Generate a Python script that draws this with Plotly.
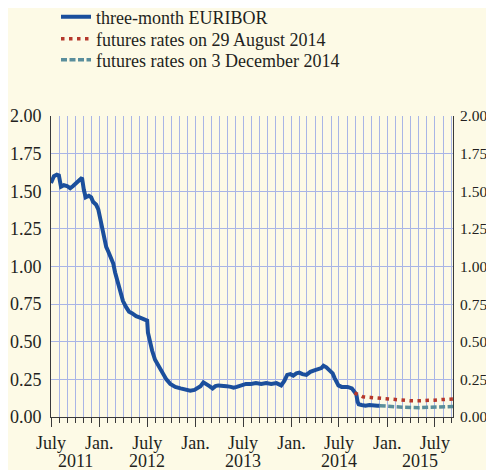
import plotly.graph_objects as go

# ---------------- data ----------------
euribor_dates = [
    "2011-07-01", "2011-07-12", "2011-07-23", "2011-07-31", "2011-08-08", "2011-08-19",
    "2011-08-31", "2011-09-12", "2011-09-23", "2011-10-08", "2011-10-20", "2011-10-27",
    "2011-11-03", "2011-11-10", "2011-11-22", "2011-12-01", "2011-12-08", "2011-12-20",
    "2011-12-28", "2012-01-05", "2012-01-12", "2012-01-20", "2012-01-27", "2012-02-04",
    "2012-02-12", "2012-02-23", "2012-03-01", "2012-03-08", "2012-03-19", "2012-03-31",
    "2012-04-12", "2012-04-23", "2012-05-04", "2012-05-20", "2012-06-04", "2012-06-19",
    "2012-07-01", "2012-07-04", "2012-07-12", "2012-07-20", "2012-07-31", "2012-08-12",
    "2012-08-27", "2012-09-12", "2012-09-27", "2012-10-16", "2012-11-05", "2012-11-23",
    "2012-12-12", "2012-12-28", "2013-01-08", "2013-01-20", "2013-01-31", "2013-02-12",
    "2013-02-23", "2013-03-07", "2013-03-18", "2013-03-29", "2013-04-14", "2013-04-29",
    "2013-05-15", "2013-05-26", "2013-06-07", "2013-06-22", "2013-07-12", "2013-07-31",
    "2013-08-19", "2013-09-08", "2013-09-27", "2013-10-16", "2013-11-05", "2013-11-23",
    "2013-12-05", "2013-12-16", "2013-12-28", "2014-01-08", "2014-01-20", "2014-01-31",
    "2014-02-12", "2014-02-27", "2014-03-14", "2014-03-29", "2014-04-14", "2014-04-25",
    "2014-05-03", "2014-05-14", "2014-05-26", "2014-06-07", "2014-06-14", "2014-06-22",
    "2014-06-29", "2014-07-11", "2014-07-22", "2014-08-03", "2014-08-19", "2014-08-30",
    "2014-09-05", "2014-09-10", "2014-09-14", "2014-09-25", "2014-10-10", "2014-10-25",
    "2014-11-09", "2014-11-24", "2014-12-03",
]
euribor_values = [
    1.555, 1.60, 1.61, 1.605, 1.53, 1.54,
    1.535, 1.52, 1.535, 1.56, 1.58, 1.59,
    1.51, 1.46, 1.47, 1.46, 1.43, 1.41,
    1.38, 1.32, 1.26, 1.19, 1.13, 1.10,
    1.06, 1.02, 0.96, 0.91, 0.83, 0.77,
    0.73, 0.70, 0.69, 0.67, 0.66, 0.65,
    0.64, 0.56, 0.49, 0.44, 0.38, 0.34,
    0.29, 0.25, 0.22, 0.20, 0.19, 0.185,
    0.175, 0.18, 0.19, 0.205, 0.23, 0.22,
    0.205, 0.19, 0.205, 0.21, 0.21, 0.205,
    0.20, 0.195, 0.20, 0.21, 0.22, 0.22,
    0.225, 0.22, 0.225, 0.22, 0.225, 0.21,
    0.24, 0.28, 0.285, 0.275, 0.29, 0.295,
    0.285, 0.28, 0.30, 0.31, 0.315, 0.325,
    0.34, 0.33, 0.31, 0.29, 0.26, 0.23,
    0.21, 0.20, 0.20, 0.20, 0.19, 0.17,
    0.15, 0.10, 0.085, 0.08, 0.075, 0.08,
    0.075, 0.075, 0.075,
]

fut_aug_dates = [
    "2014-08-29", "2014-09-29", "2014-10-29", "2014-11-29", "2014-12-29", "2015-01-29",
    "2015-02-28", "2015-03-29", "2015-04-29", "2015-05-29", "2015-06-29", "2015-07-29",
    "2015-08-29", "2015-09-08",
]
fut_aug_values = [
    0.16, 0.135, 0.13, 0.125, 0.12, 0.113,
    0.11, 0.108, 0.108, 0.108, 0.112, 0.116,
    0.12, 0.12,
]

fut_dec_dates = ["2014-12-03", "2015-01-03", "2015-03-03", "2015-05-03", "2015-07-03", "2015-09-08"]
fut_dec_values = [0.075, 0.07, 0.065, 0.062, 0.065, 0.07]

tick_dates = ["2011-07-01", "2012-01-01", "2012-07-01", "2013-01-01", "2013-07-01",
              "2014-01-01", "2014-07-01", "2015-01-01", "2015-07-01"]
tick_text = ["July", "Jan.", "July", "Jan.", "July", "Jan.", "July", "Jan.", "July"]

year_labels = ["2011", "2012", "2013", "2014", "2015"]
year_positions = ["2011-10-01", "2012-07-01", "2013-07-01", "2014-07-01", "2015-05-05"]

y_ticks = [0, 0.25, 0.5, 0.75, 1.0, 1.25, 1.5, 1.75, 2.0]

# ---------------- style ----------------
BG = "#fdfae6"
GRID = "#a9b5e6"
AXIS = "#3a3a3a"
TEXT = "#231f20"
FONT = "Liberation Serif"
FS = 18

# page body has an 8px margin; figure is sized to fit the 494x470 window
W, H = 486, 462

fig = go.Figure()
fig.add_trace(go.Scatter(x=euribor_dates, y=euribor_values, mode="lines",
                         name="three-month EURIBOR", legend="legend",
                         line=dict(color="#1b4f9c", width=4)))
fig.add_trace(go.Scatter(x=fut_aug_dates, y=fut_aug_values, mode="lines",
                         name="futures rates on 29 August 2014", legend="legend2",
                         line=dict(color="#b5372b", width=3.5, dash="3.5px,4.5px")))
fig.add_trace(go.Scatter(x=fut_dec_dates, y=fut_dec_values, mode="lines",
                         name="futures rates on 3 December 2014", legend="legend3",
                         line=dict(color="#5a8e9c", width=3.5, dash="6px,2.5px")))
# invisible trace to anchor right axis
fig.add_trace(go.Scatter(x=[tick_dates[0]], y=[0], yaxis="y2", mode="markers",
                         marker=dict(opacity=0), showlegend=False, hoverinfo="skip"))

for lab, pos in zip(year_labels, year_positions):
    fig.add_annotation(x=pos, y=-0.146, xref="x", yref="paper", text=lab,
                       showarrow=False, yanchor="middle", xanchor="center",
                       font=dict(family=FONT, size=FS, color=TEXT))


def legend_at(row_center_px):
    return dict(x=48 / W, y=1 - row_center_px / H, xref="container", yref="container",
                xanchor="left", yanchor="middle", bgcolor="rgba(0,0,0,0)",
                font=dict(family=FONT, size=FS, color=TEXT), itemwidth=30)


fig.update_layout(
    width=W, height=H,
    margin=dict(l=43, r=41, t=108, b=53, autoexpand=False),
    paper_bgcolor=BG, plot_bgcolor=BG,
    font=dict(family=FONT, size=FS, color=TEXT),
    showlegend=True,
    legend=legend_at(9),
    legend2=legend_at(31),
    legend3=legend_at(52),
    xaxis=dict(
        type="date",
        range=["2011-07-01", "2015-09-08"],
        tickvals=tick_dates, ticktext=tick_text,
        tickangle=0,
        ticks="outside", ticklen=9, tickcolor=AXIS, tickwidth=1,
        showgrid=True, gridcolor=GRID, gridwidth=1,
        minor=dict(dtick="M1", tick0="2011-07-01", ticks="outside", ticklen=5,
                   tickcolor=AXIS, tickwidth=1, showgrid=True, gridcolor=GRID, gridwidth=1),
        showline=True, linecolor=AXIS, linewidth=1,
        zeroline=False,
        tickfont=dict(family=FONT, size=FS, color=TEXT),
        fixedrange=True,
    ),
    yaxis=dict(
        range=[0, 2], tickvals=y_ticks, tickformat=".2f",
        showgrid=True, gridcolor=GRID, gridwidth=1.3,
        showline=True, linecolor=AXIS, linewidth=1,
        zeroline=False, ticks="", ticklabelstandoff=5,
        tickfont=dict(family=FONT, size=FS, color=TEXT),
    ),
    yaxis2=dict(
        range=[0, 2], tickvals=y_ticks, tickformat=".2f",
        overlaying="y", side="right", anchor="x",
        showgrid=False, showline=True, linecolor=AXIS, linewidth=1,
        zeroline=False, ticks="", ticklabelstandoff=3,
        tickfont=dict(family=FONT, size=15.5, color=TEXT),
    ),
)

fig.write_html("out.html")
